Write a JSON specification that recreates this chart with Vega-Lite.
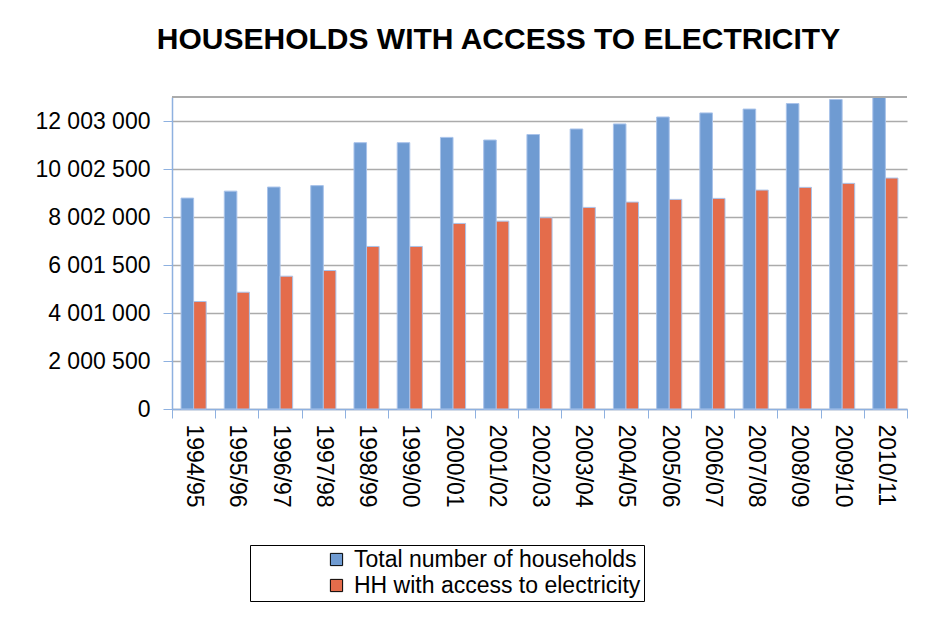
{
  "$schema": "https://vega.github.io/schema/vega-lite/v6.json",
  "autosize": "none",
  "width": 735,
  "height": 312,
  "padding": {"left": 172, "top": 97, "right": 23, "bottom": 212},
  "background": "white",
  "config": {
    "font": "Liberation Sans",
    "view": {"stroke": null},
    "locale": {"number": {"decimal": ".", "thousands": " ", "grouping": [3], "currency": ["", ""]}}
  },
  "title": {
    "text": "HOUSEHOLDS WITH ACCESS TO ELECTRICITY",
    "font": "Liberation Sans",
    "fontSize": 30,
    "fontWeight": "bold",
    "color": "#000000",
    "anchor": "middle",
    "frame": "group",
    "baseline": "alphabetic",
    "offset": 17,
    "dx": -41
  },
  "data": {
    "values": [
      {"year": "1994/95", "series": "Total number of households", "value": 8790000},
      {"year": "1994/95", "series": "HH with access to electricity", "value": 4479000},
      {"year": "1995/96", "series": "Total number of households", "value": 9080000},
      {"year": "1995/96", "series": "HH with access to electricity", "value": 4867000},
      {"year": "1996/97", "series": "Total number of households", "value": 9250000},
      {"year": "1996/97", "series": "HH with access to electricity", "value": 5535000},
      {"year": "1997/98", "series": "Total number of households", "value": 9310000},
      {"year": "1997/98", "series": "HH with access to electricity", "value": 5772000},
      {"year": "1998/99", "series": "Total number of households", "value": 11100000},
      {"year": "1998/99", "series": "HH with access to electricity", "value": 6774000},
      {"year": "1999/00", "series": "Total number of households", "value": 11100000},
      {"year": "1999/00", "series": "HH with access to electricity", "value": 6774000},
      {"year": "2000/01", "series": "Total number of households", "value": 11320000},
      {"year": "2000/01", "series": "HH with access to electricity", "value": 7734000},
      {"year": "2001/02", "series": "Total number of households", "value": 11210000},
      {"year": "2001/02", "series": "HH with access to electricity", "value": 7830000},
      {"year": "2002/03", "series": "Total number of households", "value": 11440000},
      {"year": "2002/03", "series": "HH with access to electricity", "value": 7972000},
      {"year": "2003/04", "series": "Total number of households", "value": 11670000},
      {"year": "2003/04", "series": "HH with access to electricity", "value": 8402000},
      {"year": "2004/05", "series": "Total number of households", "value": 11880000},
      {"year": "2004/05", "series": "HH with access to electricity", "value": 8623000},
      {"year": "2005/06", "series": "Total number of households", "value": 12170000},
      {"year": "2005/06", "series": "HH with access to electricity", "value": 8736000},
      {"year": "2006/07", "series": "Total number of households", "value": 12340000},
      {"year": "2006/07", "series": "HH with access to electricity", "value": 8778000},
      {"year": "2007/08", "series": "Total number of households", "value": 12500000},
      {"year": "2007/08", "series": "HH with access to electricity", "value": 9124000},
      {"year": "2008/09", "series": "Total number of households", "value": 12730000},
      {"year": "2008/09", "series": "HH with access to electricity", "value": 9237000},
      {"year": "2009/10", "series": "Total number of households", "value": 12900000},
      {"year": "2009/10", "series": "HH with access to electricity", "value": 9404000},
      {"year": "2010/11", "series": "Total number of households", "value": 12990000},
      {"year": "2010/11", "series": "HH with access to electricity", "value": 9625000}
    ]
  },
  "layer": [
    {
      "mark": {"type": "bar", "stroke": "#A9C3EA", "strokeWidth": 1},
      "encoding": {
        "x": {
          "field": "year",
          "type": "nominal",
          "sort": null,
          "scale": {"paddingInner": 0, "paddingOuter": 0},
          "axis": {
            "title": null,
            "labelAngle": 90,
            "labelFontSize": 23,
            "labelColor": "#000000",
            "labelPadding": 6,
            "tickBand": "extent",
            "tickSize": 9,
            "tickColor": "#8EB1E0",
            "domainColor": "#8EB1E0",
            "domainWidth": 1.5,
            "grid": false
          }
        },
        "xOffset": {
          "field": "series",
          "type": "nominal",
          "sort": ["Total number of households", "HH with access to electricity"],
          "scale": {"paddingInner": 0, "paddingOuter": 0.72}
        },
        "y": {
          "field": "value",
          "type": "quantitative",
          "scale": {"domain": [0, 13003250], "nice": false, "zero": true},
          "axis": {
            "title": null,
            "values": [0, 2000500, 4001000, 6001500, 8002000, 10002500, 12003000],
            "format": ",d",
            "labelFontSize": 23,
            "labelColor": "#000000",
            "labelPadding": 13,
            "tickSize": 9,
            "tickColor": "#8EB1E0",
            "domainColor": "#8EB1E0",
            "domainWidth": 1.5,
            "gridColor": "#ABABAB",
            "gridWidth": 1.5
          }
        },
        "color": {
          "field": "series",
          "type": "nominal",
          "sort": ["Total number of households", "HH with access to electricity"],
          "scale": {
            "domain": ["Total number of households", "HH with access to electricity"],
            "range": ["#6F9BD2", "#E46C4B"]
          },
          "legend": {
            "title": null,
            "orient": "none",
            "legendX": 78,
            "legendY": 448,
            "direction": "vertical",
            "symbolType": "square",
            "symbolSize": 150,
            "symbolStrokeColor": "#000000",
            "symbolStrokeWidth": 1,
            "symbolOffset": 72,
            "labelOffset": 6,
            "labelFontSize": 23,
            "labelColor": "#000000",
            "labelLimit": 600,
            "labelExpr": "datum.label + '\u2003\u2003\u2003\u2003'",
            "rowPadding": 2,
            "padding": 3,
            "strokeColor": "#000000",
            "fillColor": "#FFFFFF"
          }
        }
      }
    },
    {
      "mark": {"type": "rule", "color": "#ABABAB", "strokeWidth": 1.5},
      "encoding": {"y": {"datum": 13003250}}
    }
  ]
}
